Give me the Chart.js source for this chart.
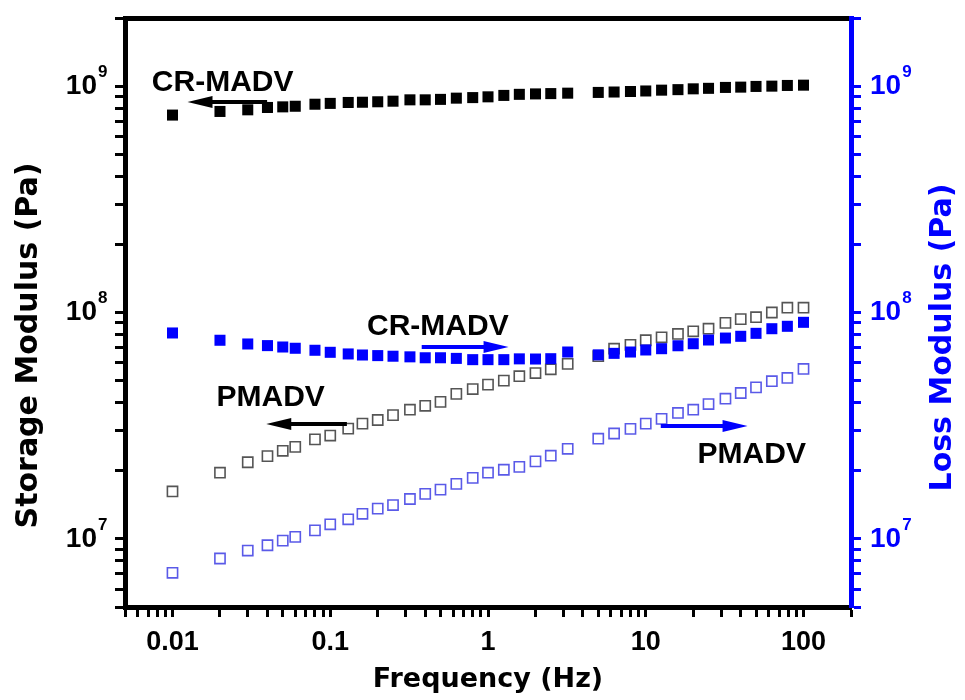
<!DOCTYPE html>
<html>
<head>
<meta charset="utf-8">
<title>Storage / Loss Modulus vs Frequency</title>
<script src="https://cdn.jsdelivr.net/npm/chart.js@4.4.1/dist/chart.umd.min.js"></script>
<style>
  html, body { margin: 0; padding: 0; background: #fff; }
  #wrap { width: 965px; height: 700px; }
</style>
</head>
<body>
<div id="wrap"><canvas id="chart" width="965" height="700"></canvas></div>
<script>
// frequency sweep (Hz)
const freq = [0.01, 0.02, 0.03, 0.04, 0.05, 0.06, 0.08, 0.1, 0.13, 0.16, 0.2, 0.25, 0.32, 0.4, 0.5, 0.63, 0.8,
  1, 1.26, 1.58, 2, 2.5, 3.2, 5, 6.3, 8, 10, 12.6, 16, 20, 25, 32, 40, 50, 63, 79, 100];

// CR-MADV storage modulus (Pa), filled black
const crStorage = [7.45e8, 7.73e8, 7.86e8, 8.05e8, 8.1e8, 8.15e8, 8.32e8, 8.39e8, 8.47e8, 8.49e8, 8.53e8, 8.58e8,
  8.7e8, 8.7e8, 8.74e8, 8.85e8, 8.9e8, 8.97e8, 9.1e8, 9.2e8, 9.24e8, 9.27e8, 9.31e8, 9.38e8, 9.42e8, 9.47e8,
  9.52e8, 9.6e8, 9.65e8, 9.73e8, 9.78e8, 9.87e8, 9.9e8, 9.97e8, 1.0e9, 1.007e9, 1.01e9];

// CR-MADV loss modulus (Pa), filled blue
const crLoss = [8.12e7, 7.54e7, 7.26e7, 7.14e7, 7.04e7, 6.95e7, 6.81e7, 6.67e7, 6.56e7, 6.49e7, 6.45e7, 6.41e7,
  6.37e7, 6.31e7, 6.31e7, 6.27e7, 6.19e7, 6.19e7, 6.19e7, 6.24e7, 6.23e7, 6.25e7, 6.69e7, 6.5e7, 6.6e7, 6.69e7,
  6.83e7, 6.92e7, 7.13e7, 7.28e7, 7.56e7, 7.71e7, 7.85e7, 8.09e7, 8.48e7, 8.69e7, 9.05e7];

// PMADV storage modulus (Pa), open grey
const pmStorage = [1.62e7, 1.96e7, 2.18e7, 2.32e7, 2.45e7, 2.55e7, 2.75e7, 2.86e7, 3.07e7, 3.23e7, 3.35e7, 3.52e7,
  3.72e7, 3.87e7, 4.03e7, 4.37e7, 4.59e7, 4.8e7, 5.0e7, 5.23e7, 5.4e7, 5.61e7, 5.93e7, 6.41e7, 6.92e7, 7.2e7,
  7.54e7, 7.77e7, 8.04e7, 8.26e7, 8.48e7, 9.0e7, 9.35e7, 9.53e7, 1.0e8, 1.05e8, 1.05e8];

// PMADV loss modulus (Pa), open blue
const pmLoss = [7.08e6, 8.19e6, 8.88e6, 9.37e6, 9.82e6, 1.02e7, 1.09e7, 1.16e7, 1.22e7, 1.29e7, 1.36e7, 1.41e7,
  1.5e7, 1.58e7, 1.65e7, 1.75e7, 1.86e7, 1.96e7, 2.02e7, 2.08e7, 2.2e7, 2.33e7, 2.5e7, 2.77e7, 2.92e7, 3.06e7,
  3.23e7, 3.39e7, 3.6e7, 3.72e7, 3.94e7, 4.16e7, 4.41e7, 4.67e7, 4.97e7, 5.14e7, 5.63e7];

// axis ranges
const xRange = [0.005, 200];
const yRange = [5e6, 2e9];

// labels drawn inside the plot, placed in data units
const noteText = ['CR-MADV', 'CR-MADV', 'PMADV', 'PMADV'];
const noteAt = [[0.0074, 9.5e8], [0.171, 7.95e7], [0.019, 3.87e7], [21.3, 2.17e7]];
const arrowFrom = [[0.0398, 8.5e8], [0.38, 7.04e7], [0.1275, 3.22e7], [12.45, 3.15e7]];
const arrowTo = [[0.01245, 8.5e8], [1.35, 7.04e7], [0.0393, 3.22e7], [44.2, 3.15e7]];
const arrowColor = ['#000000', '#0000ff', '#000000', '#0000ff'];

const BLUE = '#0000ff';
const SANS = '"Liberation Sans", Arial, sans-serif';
const WIDE = '"DejaVu Sans", sans-serif';
const TICK_LEN = 10;
const Y_PAD = 18;   // left labels leave room for the exponent
const Y2_PAD = 9;

function isDecade(v) {
  const e = Math.log10(v);
  return Math.abs(e - Math.round(e)) < 1e-6;
}
function isWholeStep(v) {
  const m = v / Math.pow(10, Math.floor(Math.log10(v) + 1e-9));
  return Math.abs(m - Math.round(m)) < 1e-6;
}
// keep 1..9 x 10^n tick marks only
function keepWholeSteps(scale) {
  scale.ticks = scale.ticks.filter(t => isWholeStep(t.value));
}
// fixed box sizes so the frame lands where the reference has it
function fixSize(w, h) {
  return s => {
    if (w != null) s.width = w;
    if (h != null) s.height = h;
    s.paddingTop = 0;
    s.paddingBottom = 0;
    s.paddingLeft = 0;
    s.paddingRight = 0;
  };
}

const toPoints = ys => freq.map((f, i) => ({ x: f, y: ys[i] }));

const notesPlugin = {
  id: 'notes',
  afterDraw(chart) {
    const { ctx, chartArea, scales: { x, y, y2 } } = chart;
    ctx.save();

    // exponents of the 10^n tick labels
    ctx.font = 'bold 17px ' + SANS;
    ctx.textBaseline = 'middle';
    ctx.textAlign = 'left';
    y.ticks.filter(t => isDecade(t.value)).forEach(t => {
      const py = y.getPixelForValue(t.value);
      const exp = String(Math.round(Math.log10(t.value)));
      ctx.fillStyle = '#000';
      ctx.fillText(exp, chartArea.left - TICK_LEN - Y_PAD + 1, py - 14);
    });
    ctx.font = 'bold 28px ' + SANS;
    const baseW = ctx.measureText('10').width;
    ctx.font = 'bold 17px ' + SANS;
    y2.ticks.filter(t => isDecade(t.value)).forEach(t => {
      const py = y2.getPixelForValue(t.value);
      const exp = String(Math.round(Math.log10(t.value)));
      ctx.fillStyle = BLUE;
      ctx.fillText(exp, chartArea.right + TICK_LEN + Y2_PAD + baseW + 1, py - 14);
    });

    // annotations
    ctx.font = 'bold 30px ' + SANS;
    ctx.fillStyle = '#000';
    ctx.textAlign = 'left';
    ctx.textBaseline = 'alphabetic';
    noteText.forEach((t, i) => {
      ctx.fillText(t, x.getPixelForValue(noteAt[i][0]), y.getPixelForValue(noteAt[i][1]));
    });
    arrowFrom.forEach((p, i) => {
      const x0 = x.getPixelForValue(p[0]), y0 = y.getPixelForValue(p[1]);
      const x1 = x.getPixelForValue(arrowTo[i][0]), y1 = y.getPixelForValue(arrowTo[i][1]);
      const dir = Math.sign(x1 - x0);
      ctx.strokeStyle = arrowColor[i];
      ctx.fillStyle = arrowColor[i];
      ctx.lineWidth = 4;
      ctx.beginPath();
      ctx.moveTo(x0, y0);
      ctx.lineTo(x1 - dir * 16, y1);
      ctx.stroke();
      ctx.beginPath();
      ctx.moveTo(x1, y1);
      ctx.lineTo(x1 - dir * 25, y1 - 6);
      ctx.lineTo(x1 - dir * 25, y1 + 6);
      ctx.closePath();
      ctx.fill();
    });

    // vertical axis titles (sit a little below the middle of the frame)
    const midY = (chartArea.top + chartArea.bottom) / 2 + 33;
    ctx.font = 'bold 30px ' + WIDE;
    ctx.textAlign = 'center';
    ctx.textBaseline = 'middle';
    ctx.fillStyle = '#000';
    ctx.save();
    ctx.translate(29, midY);
    ctx.rotate(-Math.PI / 2);
    ctx.fillText('Storage Modulus (Pa)', 0, 0);
    ctx.restore();
    ctx.fillStyle = BLUE;
    ctx.translate(943, midY - 8);
    ctx.rotate(-Math.PI / 2);
    ctx.fillText('Loss Modulus (Pa)', 0, 0);
    ctx.restore();
  }
};

const tickFont = { family: SANS, size: 28, weight: 'bold' };
const xTickFont = { family: SANS, size: 27, weight: 'bold' };

const ctx = document.getElementById('chart').getContext('2d');
new Chart(ctx, {
  type: 'scatter',
  data: {
    datasets: [
      {
        label: 'CR-MADV storage',
        data: toPoints(crStorage),
        yAxisID: 'y',
        pointStyle: 'rect',
        pointRadius: 7.8,
        backgroundColor: '#000000',
        borderColor: '#000000',
        borderWidth: 0,
        order: 1
      },
      {
        label: 'CR-MADV loss',
        data: toPoints(crLoss),
        yAxisID: 'y2',
        pointStyle: 'rect',
        pointRadius: 7.8,
        backgroundColor: BLUE,
        borderColor: BLUE,
        borderWidth: 0,
        order: 1
      },
      {
        label: 'PMADV storage',
        data: toPoints(pmStorage),
        yAxisID: 'y',
        pointStyle: 'rect',
        pointRadius: 7.2,
        backgroundColor: 'rgba(255,255,255,0)',
        borderColor: '#555555',
        borderWidth: 1.6,
        order: 2
      },
      {
        label: 'PMADV loss',
        data: toPoints(pmLoss),
        yAxisID: 'y2',
        pointStyle: 'rect',
        pointRadius: 7.2,
        backgroundColor: 'rgba(255,255,255,0)',
        borderColor: '#5a5ae8',
        borderWidth: 1.6,
        order: 2
      }
    ]
  },
  options: {
    responsive: false,
    animation: false,
    layout: { padding: 0 },
    plugins: {
      legend: { display: false },
      tooltip: { enabled: false }
    },
    scales: {
      x: {
        type: 'logarithmic',
        position: 'bottom',
        min: xRange[0],
        max: xRange[1],
        afterBuildTicks: keepWholeSteps,
        afterFit: fixSize(null, 93),
        border: { display: true, color: '#000', width: 5 },
        grid: { display: true, drawOnChartArea: false, drawTicks: true, tickLength: TICK_LEN, tickWidth: 3, tickColor: '#000' },
        ticks: {
          autoSkip: false,
          maxRotation: 0,
          padding: 9,
          color: '#000',
          font: xTickFont,
          callback: v => isDecade(v) ? String(+Number(v).toPrecision(1)) : ''
        },
        title: { display: true, text: 'Frequency (Hz)', color: '#000', font: { family: WIDE, size: 27, weight: 'bold' }, padding: 4 }
      },
      xTop: {
        type: 'logarithmic',
        position: 'top',
        min: xRange[0],
        max: xRange[1],
        afterFit: fixSize(null, 18),
        border: { display: true, color: '#000', width: 5 },
        grid: { display: false },
        ticks: { display: false }
      },
      y: {
        type: 'logarithmic',
        position: 'left',
        min: yRange[0],
        max: yRange[1],
        afterBuildTicks: keepWholeSteps,
        afterFit: fixSize(125, null),
        border: { display: true, color: '#000', width: 5 },
        grid: { display: true, drawOnChartArea: false, drawTicks: true, tickLength: TICK_LEN, tickWidth: 3, tickColor: '#000' },
        ticks: { autoSkip: false, padding: Y_PAD, color: '#000', font: tickFont, callback: v => isDecade(v) ? '10' : '' }
      },
      y2: {
        type: 'logarithmic',
        position: 'right',
        min: yRange[0],
        max: yRange[1],
        afterBuildTicks: keepWholeSteps,
        afterFit: fixSize(114, null),
        border: { display: true, color: BLUE, width: 5 },
        grid: { display: true, drawOnChartArea: false, drawTicks: true, tickLength: TICK_LEN, tickWidth: 3, tickColor: BLUE },
        ticks: { autoSkip: false, padding: Y2_PAD, color: BLUE, font: tickFont, callback: v => isDecade(v) ? '10' : '' }
      }
    }
  },
  plugins: [notesPlugin]
});
</script>
</body>
</html>
